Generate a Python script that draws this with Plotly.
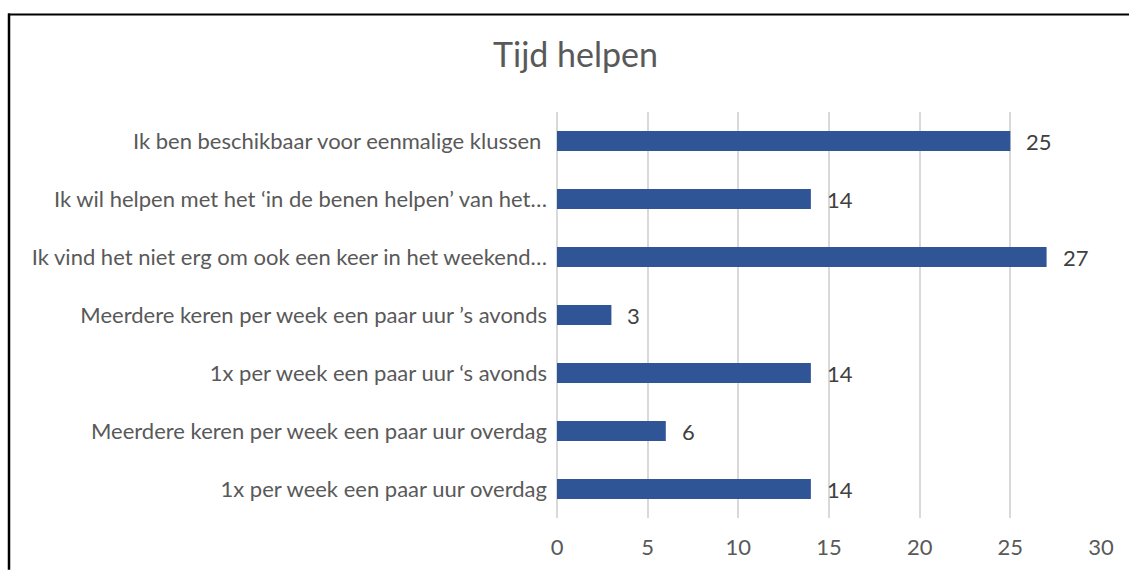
import plotly.graph_objects as go

categories = [
    "Ik ben beschikbaar voor eenmalige klussen ",
    "Ik wil helpen met het ‘in de benen helpen’ van het…",
    "Ik vind het niet erg om ook een keer in het weekend…",
    "Meerdere keren per week een paar uur ’s avonds",
    "1x per week een paar uur ‘s avonds",
    "Meerdere keren per week een paar uur overdag",
    "1x per week een paar uur overdag",
]
values = [25, 14, 27, 3, 14, 6, 14]
x_ticks = [0, 5, 10, 15, 20, 25, 30]
title_text = "Tijd helpen"

W, H = 1129, 572
ML, MR, MT, MB = 557, 28, 112, 52
pw, ph = W - ML - MR, H - MT - MB

FONT = "Lato"
TXT = "#595959"
GRID = "#D9D9D9"

fig = go.Figure()
fig.add_trace(go.Bar(
    x=values, y=categories, orientation="h",
    marker=dict(color="#2F5597", line=dict(width=0)),
    hoverinfo="x+y",
))

for c, v in zip(categories, values):
    fig.add_annotation(x=v, y=c, text=str(v), showarrow=False,
                       xanchor="left", xshift=14,
                       font=dict(family=FONT, size=22, color="#404040"))

def px_x(p):
    return (p - ML) / pw

def px_y(p):
    return (H - MB - p) / ph

fig.add_shape(type="line", xref="paper", yref="paper",
              x0=px_x(8), x1=px_x(W), y0=px_y(14), y1=px_y(14),
              line=dict(color="black", width=2))
fig.add_shape(type="line", xref="paper", yref="paper",
              x0=px_x(9), x1=px_x(9), y0=px_y(13), y1=px_y(H),
              line=dict(color="black", width=2.5))

fig.update_layout(
    width=W, height=H,
    margin=dict(l=ML, r=MR, t=MT, b=MB),
    paper_bgcolor="white", plot_bgcolor="white",
    bargap=0.655,
    showlegend=False,
    title=dict(text=title_text, x=575.5 / W, xanchor="center",
               y=1 - 55 / H, yanchor="middle",
               font=dict(family=FONT, size=34, color=TXT)),
    font=dict(family=FONT, size=22, color=TXT),
    xaxis=dict(range=[0, 30], tickvals=x_ticks, showgrid=True,
               gridcolor=GRID, gridwidth=2, zeroline=True,
               zerolinecolor=GRID, zerolinewidth=2,
               showline=False, ticks="", ticklabelstandoff=14,
               tickfont=dict(family=FONT, size=22, color=TXT)),
    yaxis=dict(categoryorder="array", categoryarray=categories,
               autorange="reversed", showgrid=False, zeroline=False,
               showline=False, ticks="", ticklabelstandoff=9,
               tickfont=dict(family=FONT, size=22, color=TXT)),
)

fig.write_html(
    "out.html",
    config={"displayModeBar": False},
    post_script="document.body.style.margin='0';document.body.style.overflow='hidden';",
)
